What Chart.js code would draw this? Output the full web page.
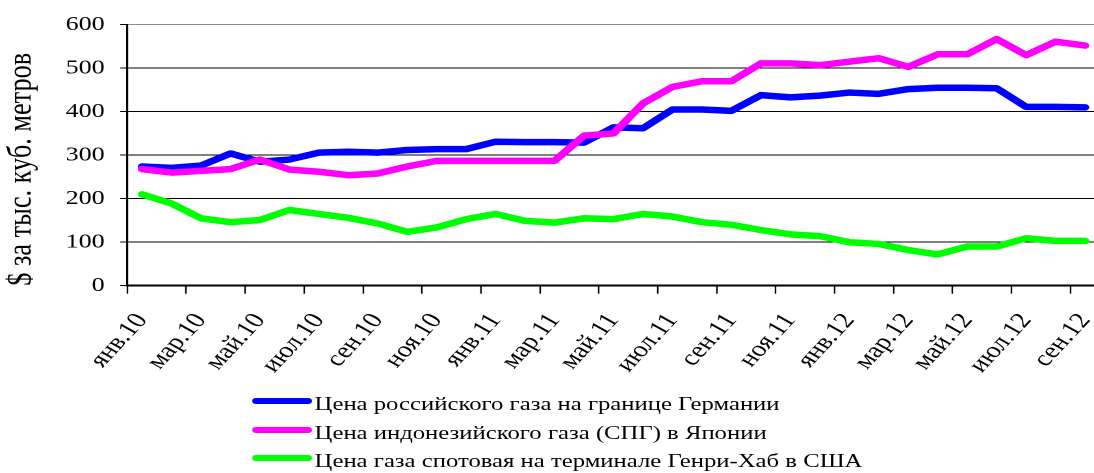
<!DOCTYPE html>
<html>
<head>
<meta charset="utf-8">
<script src="https://cdn.jsdelivr.net/npm/chart.js@4"></script>
<style>
  html, body { margin: 0; padding: 0; background: #fff; overflow: hidden; }
  /* the reference is drawn wider than it is tall, so the whole chart is stretched sideways */
  #wrap { position: absolute; left: 0; top: 0; width: 850px; height: 473px; transform: scaleX(1.3); transform-origin: 0 0; }
  #legend { position: absolute; left: 194px; top: 390px; font-family: "Liberation Serif", "Times New Roman", serif; font-size: 19px; color: #000; }
  .row { height: 28.5px; display: flex; align-items: center; white-space: nowrap; }
  .key { width: 46px; height: 6px; border-radius: 3px; margin-right: 2px; transform: translateY(-3px); }
</style>
</head>
<body>
<div id="wrap">
  <canvas id="myChart" width="850" height="473"></canvas>
  <div id="legend"></div>
</div>
<script>
const months = [
  'янв.10', 'фев.10', 'мар.10', 'апр.10', 'май.10', 'июн.10', 'июл.10', 'авг.10', 'сен.10', 'окт.10', 'ноя.10', 'дек.10',
  'янв.11', 'фев.11', 'мар.11', 'апр.11', 'май.11', 'июн.11', 'июл.11', 'авг.11', 'сен.11', 'окт.11', 'ноя.11', 'дек.11',
  'янв.12', 'фев.12', 'мар.12', 'апр.12', 'май.12', 'июн.12', 'июл.12', 'авг.12', 'сен.12'
];

// Цена российского газа на границе Германии
const russiaGermany = [274, 271, 276, 304, 285, 290, 306, 308, 306, 312, 314, 314,
  331, 330, 330, 329, 364, 362, 405, 405, 402, 438, 433, 437,
  444, 441, 452, 455, 455, 454, 411, 411, 410];

// Цена индонезийского газа (СПГ) в Японии
const indonesiaJapan = [268, 260, 264, 268, 290, 267, 262, 254, 258, 274, 287, 287,
  287, 287, 287, 345, 350, 419, 457, 470, 470, 511, 511, 507,
  515, 523, 503, 532, 532, 567, 530, 561, 552];

// Цена газа спотовая на терминале Генри-Хаб в США
const henryHub = [210, 189, 155, 146, 151, 174, 165, 156, 143, 124, 134, 153,
  165, 149, 145, 155, 153, 165, 159, 146, 140, 128, 118, 114,
  100, 96, 82, 72, 90, 90, 109, 103, 103];

const seriesNames = [
  'Цена российского газа на границе Германии',
  'Цена индонезийского газа (СПГ) в Японии',
  'Цена газа спотовая на терминале Генри-Хаб в США'
];
const seriesColors = ['#0000ff', '#ff00ff', '#00ff00'];
const yTitle = '$ за тыс. куб. метров';

const FONT = '"Liberation Serif", "Times New Roman", serif';

const seriesData = [russiaGermany, indonesiaJapan, henryHub];
const drawOrder = [1, 0, 2]; // magenta sits over blue where they cross

const data = {
  labels: months,
  datasets: seriesData.map((vals, k) => ({
    label: seriesNames[k],
    data: vals,
    borderColor: seriesColors[k],
    backgroundColor: seriesColors[k],
    borderWidth: 6.5,
    borderCapStyle: 'round',
    borderJoinStyle: 'round',
    pointRadius: 0,
    tension: 0,
    fill: false,
    order: drawOrder[k]
  }))
};

const config = {
  type: 'line',
  data: data,
  options: {
    responsive: false,
    devicePixelRatio: 2,
    animation: false,
    layout: { padding: { top: 24.7, right: 4, bottom: 93, left: 0 } },
    plugins: {
      legend: { display: false },
      tooltip: { enabled: false }
    },
    scales: {
      x: {
        offset: true,
        grid: {
          offset: true,
          drawOnChartArea: false,
          drawTicks: true,
          tickLength: 8,
          tickWidth: 1.2,
          tickColor: ctx => ctx.index % 2 === 0 ? '#000' : 'rgba(0,0,0,0)'
        },
        border: { color: '#000', width: 2 },
        ticks: {
          autoSkip: false,
          maxRotation: 54,
          minRotation: 54,
          padding: 15,
          color: '#000',
          font: { family: FONT, size: 22 },
          callback: (v, i) => i % 2 === 0 ? months[i] : ''
        },
        // the plot runs off the right edge, so no room is kept for the last label
        afterFit: s => { s.height = 94.3; s.paddingLeft = 0; s.paddingRight = 0; }
      },
      y: {
        min: 0,
        max: 600,
        ticks: {
          stepSize: 100,
          padding: 12,
          color: '#000',
          font: { family: FONT, size: 20 }
        },
        grid: {
          color: ctx => (ctx.tick && ctx.tick.value === 600) ? '#8c8c8c' : '#000',
          lineWidth: 1,
          tickLength: 5.4,
          tickColor: '#000'
        },
        border: { color: '#000', width: 1.6 },
        title: {
          display: true,
          text: yTitle,
          align: 'start',
          color: '#000',
          font: { family: FONT, size: 26.3 },
          padding: { top: 1, bottom: 0 }
        },
        afterFit: s => { s.width = 97.9; }
      }
    }
  }
};

const myChart = new Chart(document.getElementById('myChart'), config);

// legend below the chart, built from the same names and colours
const legend = document.getElementById('legend');
seriesNames.forEach((name, k) => {
  const row = document.createElement('div');
  row.className = 'row';
  const key = document.createElement('span');
  key.className = 'key';
  key.style.background = seriesColors[k];
  const txt = document.createElement('span');
  txt.textContent = name;
  row.appendChild(key);
  row.appendChild(txt);
  legend.appendChild(row);
});
</script>
</body>
</html>
